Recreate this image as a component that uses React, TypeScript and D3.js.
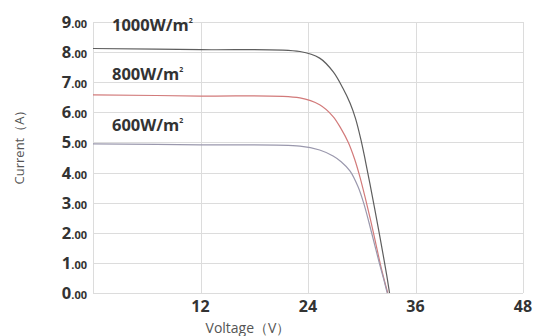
import React, { useEffect, useRef } from 'react';
import * as d3 from 'd3';

// I-V curves, [voltage, current]
const curve1000: [number, number][] = [
    [0, 8.12], [12, 8.08], [23.1, 8.02], [25.3, 7.8], [26.8, 7.35], [27.9, 6.8],
    [28.7, 6.3], [29.3, 5.8], [29.9, 5.1], [30.4, 4.4], [30.9, 3.65], [31.4, 2.87],
    [31.9, 2.07], [32.4, 1.25], [32.8, 0.57], [33.1, 0],
];
const curve800: [number, number][] = [
    [0, 6.58], [12, 6.54], [23.1, 6.48], [25.3, 6.25], [26.8, 5.86], [27.7, 5.45],
    [28.5, 5.0], [29.2, 4.45], [29.8, 3.85], [30.4, 3.15], [31.0, 2.4], [31.6, 1.6],
    [32.2, 0.8], [32.9, 0],
];
const curve600: [number, number][] = [
    [0, 4.95], [12, 4.92], [23.1, 4.88], [25.3, 4.75], [26.8, 4.55], [27.7, 4.36],
    [28.7, 4.05], [29.6, 3.52], [30.2, 3.0], [30.8, 2.35], [31.4, 1.65], [32.0, 0.95],
    [32.5, 0.4], [32.85, 0],
];

const seriesNames = ['1000W/m', '800W/m', '600W/m'];
const seriesColors = ['#5e5e5e', '#d27a7a', '#9a98ad'];
const labelCurrent = [8.75, 7.1, 5.4];

const xTicks = [12, 24, 36, 48];
const yTicks = [0, 1, 2, 3, 4, 5, 6, 7, 8, 9];

const App = () => {
    const svgRef = useRef<SVGSVGElement>(null);

    useEffect(() => {
        document.body.style.margin = '0';
        const svg = d3.select(svgRef.current);
        svg.selectAll('*').remove();

        const margin = { top: 22, right: 11, bottom: 43, left: 93 };
        const width = 534;
        const height = 336;
        const font = '"Open Sans", sans-serif';

        const x = d3.scaleLinear().domain([0, 48]).range([margin.left, width - margin.right]);
        const y = d3.scaleLinear().domain([0, 9]).range([height - margin.bottom, margin.top]);

        // grid
        const grid = svg.append('g').attr('stroke', '#dcdcdc').attr('stroke-width', 1);
        grid.selectAll('line.h')
            .data(yTicks)
            .enter()
            .append('line')
            .attr('x1', x(0))
            .attr('x2', x(48))
            .attr('y1', d => Math.round(y(d)) + 0.5)
            .attr('y2', d => Math.round(y(d)) + 0.5);
        grid.selectAll('line.v')
            .data([0, ...xTicks])
            .enter()
            .append('line')
            .attr('x1', d => Math.round(x(d)) + 0.5)
            .attr('x2', d => Math.round(x(d)) + 0.5)
            .attr('y1', y(0))
            .attr('y2', y(9));

        // y tick labels: big integer, small decimals
        const yt = svg.append('g')
            .attr('font-family', font)
            .attr('font-weight', 'bold')
            .attr('fill', '#333')
            .selectAll('text')
            .data(yTicks)
            .enter()
            .append('text')
            .attr('x', margin.left - 6)
            .attr('y', d => y(d) + 6)
            .attr('text-anchor', 'end');
        yt.append('tspan').attr('font-size', 16.5).text(d => String(d));
        yt.append('tspan').attr('font-size', 11).text('.00');

        // x tick labels
        svg.append('g')
            .selectAll('text')
            .data(xTicks)
            .enter()
            .append('text')
            .attr('x', d => x(d))
            .attr('y', height - margin.bottom + 19)
            .attr('text-anchor', 'middle')
            .attr('font-family', font)
            .attr('font-weight', 'bold')
            .attr('font-size', 16)
            .attr('fill', '#333')
            .text(d => String(d));

        // axis titles
        svg.append('text')
            .attr('x', 248)
            .attr('y', 333)
            .attr('text-anchor', 'middle')
            .attr('font-family', font)
            .attr('font-size', 14)
            .attr('fill', '#555')
            .text('Voltage（V）');
        svg.append('text')
            .attr('transform', 'translate(24,144) rotate(-90)')
            .attr('text-anchor', 'middle')
            .attr('font-family', font)
            .attr('font-size', 13)
            .attr('fill', '#555')
            .text('Current（A）');

        // curves
        const line = d3.line<[number, number]>()
            .x(d => x(d[0]))
            .y(d => y(d[1]))
            .curve(d3.curveCatmullRom.alpha(0.5));
        const curves = [curve1000, curve800, curve600];
        svg.append('g')
            .selectAll('path')
            .data(curves)
            .enter()
            .append('path')
            .attr('d', d => line(d))
            .attr('fill', 'none')
            .attr('stroke', (d, i) => seriesColors[i])
            .attr('stroke-width', 1.2);

        // irradiance labels
        const lab = svg.append('g')
            .selectAll('text')
            .data(seriesNames)
            .enter()
            .append('text')
            .attr('x', 112)
            .attr('y', (d, i) => y(labelCurrent[i]) + 1)
            .attr('font-family', font)
            .attr('font-weight', 'bold')
            .attr('fill', '#333');
        lab.append('tspan').attr('font-size', 16.5).text(d => d);
        lab.append('tspan').attr('font-size', 7).attr('dy', -8).text('2');
    }, []);

    return <svg ref={svgRef} width={534} height={336} style={{ display: 'block' }}></svg>;
};

export default App;
